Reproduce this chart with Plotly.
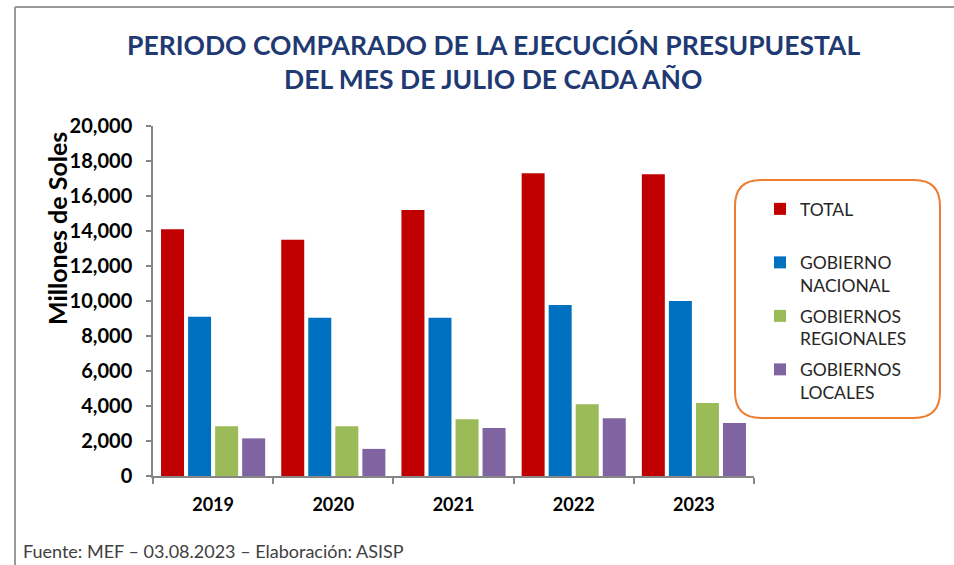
import plotly.graph_objects as go

# ---- data ----
years = ["2019", "2020", "2021", "2022", "2023"]
total = [14100, 13500, 15200, 17300, 17250]
gob_nacional = [9100, 9050, 9050, 9770, 10000]
gob_regionales = [2850, 2850, 3250, 4100, 4170]
gob_locales = [2150, 1550, 2750, 3300, 3030]

series_names = ["TOTAL<br>&nbsp;", "GOBIERNO<br>NACIONAL", "GOBIERNOS<br>REGIONALES", "GOBIERNOS<br>LOCALES"]
series_values = [total, gob_nacional, gob_regionales, gob_locales]
colors = ["#C00000", "#0070C0", "#9BBB59", "#8064A2"]

title_line1 = "PERIODO COMPARADO DE LA EJECUCIÓN PRESUPUESTAL"
title_line2 = "DEL MES DE JULIO DE CADA AÑO"
y_title = "Millones de Soles"
source_text = "Fuente: MEF – 03.08.2023 – Elaboración: ASISP"

W, H = 954, 565
L, R, T, B = 153, 754, 126, 476  # plot area in pixels

def px(x):
    return (x - L) / (R - L)

def py(y):
    return (B - y) / (B - T)

FONT = "Lato, 'Open Sans', sans-serif"

fig = go.Figure()
for i, (name, vals, c) in enumerate(zip(series_names, series_values, colors)):
    fig.add_trace(go.Bar(x=years, y=vals, name=name, legendgroup=f"g{i}",
                         marker=dict(color=c, line=dict(width=0))))

def rounded_path(ax0, ay0, ax1, ay1, rad):
    return (f"M {px(ax0+rad)},{py(ay0)} L {px(ax1-rad)},{py(ay0)} "
            f"Q {px(ax1)},{py(ay0)} {px(ax1)},{py(ay0+rad)} "
            f"L {px(ax1)},{py(ay1-rad)} Q {px(ax1)},{py(ay1)} {px(ax1-rad)},{py(ay1)} "
            f"L {px(ax0+rad)},{py(ay1)} Q {px(ax0)},{py(ay1)} {px(ax0)},{py(ay1-rad)} "
            f"L {px(ax0)},{py(ay0+rad)} Q {px(ax0)},{py(ay0)} {px(ax0+rad)},{py(ay0)} Z")

shapes = [
    dict(type="path", xref="paper", yref="paper", path=rounded_path(735, 180, 940, 418, 26),
         line=dict(color="#ED7D31", width=2), fillcolor="rgba(0,0,0,0)"),
    # slide frame
    dict(type="line", xref="paper", yref="paper", x0=px(15), x1=px(960), y0=py(7), y1=py(7),
         line=dict(color="#9A9A9A", width=2)),
    dict(type="line", xref="paper", yref="paper", x0=px(15), x1=px(15), y0=py(7), y1=py(570),
         line=dict(color="#9A9A9A", width=2)),
]

annotations = [
    dict(text=title_line1, xref="paper", yref="paper", x=px(493), y=py(45), showarrow=False,
         xanchor="center", yanchor="middle", font=dict(family=FONT, size=26.5, color="#1F3A73", weight="bold")),
    dict(text=title_line2, xref="paper", yref="paper", x=px(493), y=py(79), showarrow=False,
         xanchor="center", yanchor="middle", font=dict(family=FONT, size=26.5, color="#1F3A73", weight="bold")),
    dict(text=y_title, xref="paper", yref="paper", x=px(57), y=py(229), showarrow=False, textangle=-90,
         xanchor="center", yanchor="middle", font=dict(family=FONT, size=25, color="#000000", weight="bold")),
    dict(text=source_text, xref="paper", yref="paper", x=px(21), y=py(551), showarrow=False,
         xanchor="left", yanchor="middle", font=dict(family=FONT, size=18, color="#404040")),
]

fig.update_layout(
    width=W, height=H,
    margin=dict(l=L, r=W - R, t=T, b=H - B, autoexpand=False),
    paper_bgcolor="white", plot_bgcolor="white",
    barmode="group", bargap=0.1, bargroupgap=0.15,
    showlegend=True,
    legend=dict(x=px(760), y=py(191), xanchor="left", yanchor="top",
                bgcolor="rgba(0,0,0,0)", borderwidth=0, valign="top",
                font=dict(family=FONT, size=17.5, color="#262626"),
                traceorder="grouped",
                itemclick=False, itemdoubleclick=False, tracegroupgap=5),
    shapes=shapes, annotations=annotations,
    font=dict(family=FONT),
)
fig.update_xaxes(
    type="category", showline=True, linecolor="#868686", linewidth=1.5,
    ticks="outside", tickson="boundaries", ticklen=6, tickcolor="#868686", tickwidth=1.5,
    tickfont=dict(family=FONT, size=18, color="#000000", weight="bold"),
    ticklabelstandoff=12, showgrid=False, zeroline=False,
)
fig.update_yaxes(
    range=[0, 20000], dtick=2000, tickformat=",d", showline=True, linecolor="#868686", linewidth=1.5,
    ticks="outside", ticklen=5, tickcolor="#868686", tickwidth=1.5,
    tickfont=dict(family=FONT, size=20, color="#000000", weight="bold"),
    ticklabelstandoff=10, showgrid=False, zeroline=False,
)

fig.write_html("out.html", config={"displayModeBar": False},
               post_script="document.body.style.margin='0';")
